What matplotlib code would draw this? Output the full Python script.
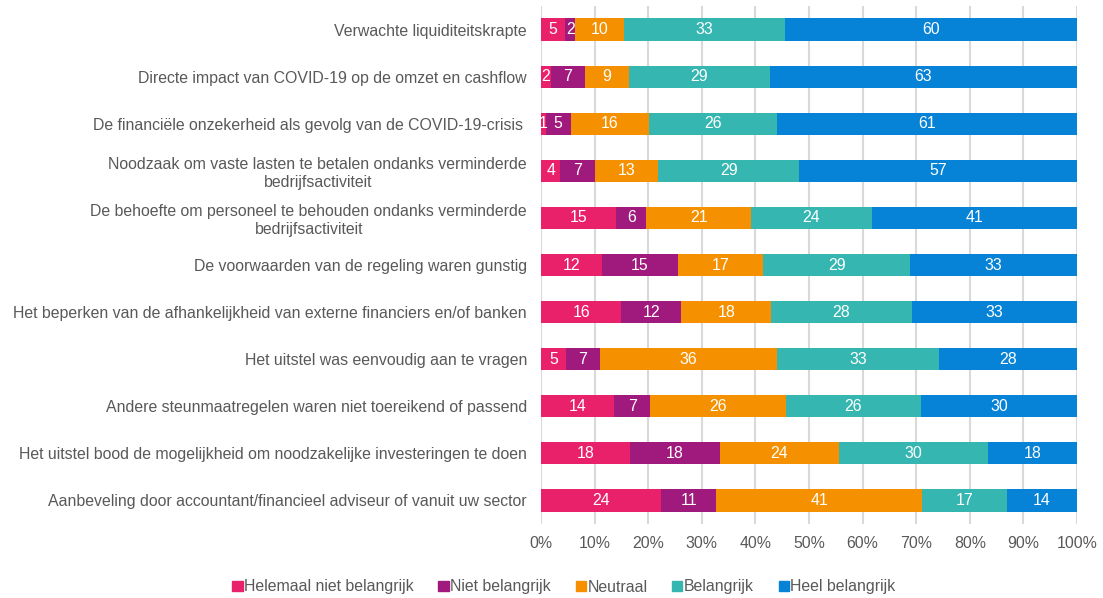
import numpy as np
import matplotlib.pyplot as plt
from matplotlib.patches import Patch

plt.rcParams['font.family'] = ['Liberation Sans', 'DejaVu Sans']

categories = [
    'Verwachte liquiditeitskrapte',
    'Directe impact van COVID-19 op de omzet en cashflow',
    'De financiële onzekerheid als gevolg van de COVID-19-crisis ',
    'Noodzaak om vaste lasten te betalen ondanks verminderde\nbedrijfsactiviteit',
    'De behoefte om personeel te behouden ondanks verminderde\nbedrijfsactiviteit',
    'De voorwaarden van de regeling waren gunstig',
    'Het beperken van de afhankelijkheid van externe financiers en/of banken',
    'Het uitstel was eenvoudig aan te vragen',
    'Andere steunmaatregelen waren niet toereikend of passend',
    'Het uitstel bood de mogelijkheid om noodzakelijke investeringen te doen',
    'Aanbeveling door accountant/financieel adviseur of vanuit uw sector',
]

series_names = ['Helemaal niet belangrijk', 'Niet belangrijk', 'Neutraal',
                'Belangrijk', 'Heel belangrijk']
helemaal_niet = [5, 2, 1, 4, 15, 12, 16, 5, 14, 18, 24]
niet = [2, 7, 5, 7, 6, 15, 12, 7, 7, 18, 11]
neutraal = [10, 9, 16, 13, 21, 17, 18, 36, 26, 24, 41]
belangrijk = [33, 29, 26, 29, 24, 29, 28, 33, 26, 30, 17]
heel = [60, 63, 61, 57, 41, 33, 33, 28, 30, 18, 14]

colors = ['#E8216A', '#A0197D', '#F59100', '#35B6B1', '#0683D7']
txt = '#595959'
fs = 11.4

values = np.array([helemaal_niet, niet, neutraal, belangrijk, heel], dtype=float)
shares = values / values.sum(axis=0) * 100

fig = plt.figure(figsize=(11.03, 5.98), dpi=100)
ax = fig.add_axes([541 / 1103, 1 - 524 / 598, 536 / 1103, 518 / 598])

y = np.arange(len(categories))
left = np.zeros(len(categories))
for vals, sh, col in zip(values, shares, colors):
    ax.barh(y, sh, left=left, height=0.47, color=col, zorder=3)
    for yi, v, s, l in zip(y, vals, sh, left):
        ax.text(l + s / 2, yi, f'{int(v)}', ha='center', va='center',
                color='white', fontsize=fs, zorder=4)
    left += sh

ax.set_xlim(0, 100)
ax.set_ylim(len(categories) - 0.5, -0.5)
ax.set_yticks(y)
ax.set_yticklabels(categories, fontsize=fs, color=txt)
ax.set_xticks(np.arange(0, 101, 10))
ax.set_xticklabels([f'{t}%' for t in range(0, 101, 10)], fontsize=fs, color=txt)
ax.tick_params(length=0, pad=9, axis='x')
ax.tick_params(length=0, pad=10, axis='y')
for lab in ax.get_yticklabels():
    lab.set_multialignment('center')
ax.grid(axis='x', color='#D9D9D9', linewidth=1.5, zorder=0)
for s in ax.spines.values():
    s.set_visible(False)

handles = [Patch(color=c) for c in colors]
fig.legend(handles, series_names, loc='center', bbox_to_anchor=(564 / 1103, 1 - 587 / 598),
           ncol=5, frameon=False, fontsize=fs, handlelength=0.65, handleheight=0.65,
           handletextpad=0.1, columnspacing=1.55, labelcolor=txt)

fig.savefig('out.png', dpi=100)
